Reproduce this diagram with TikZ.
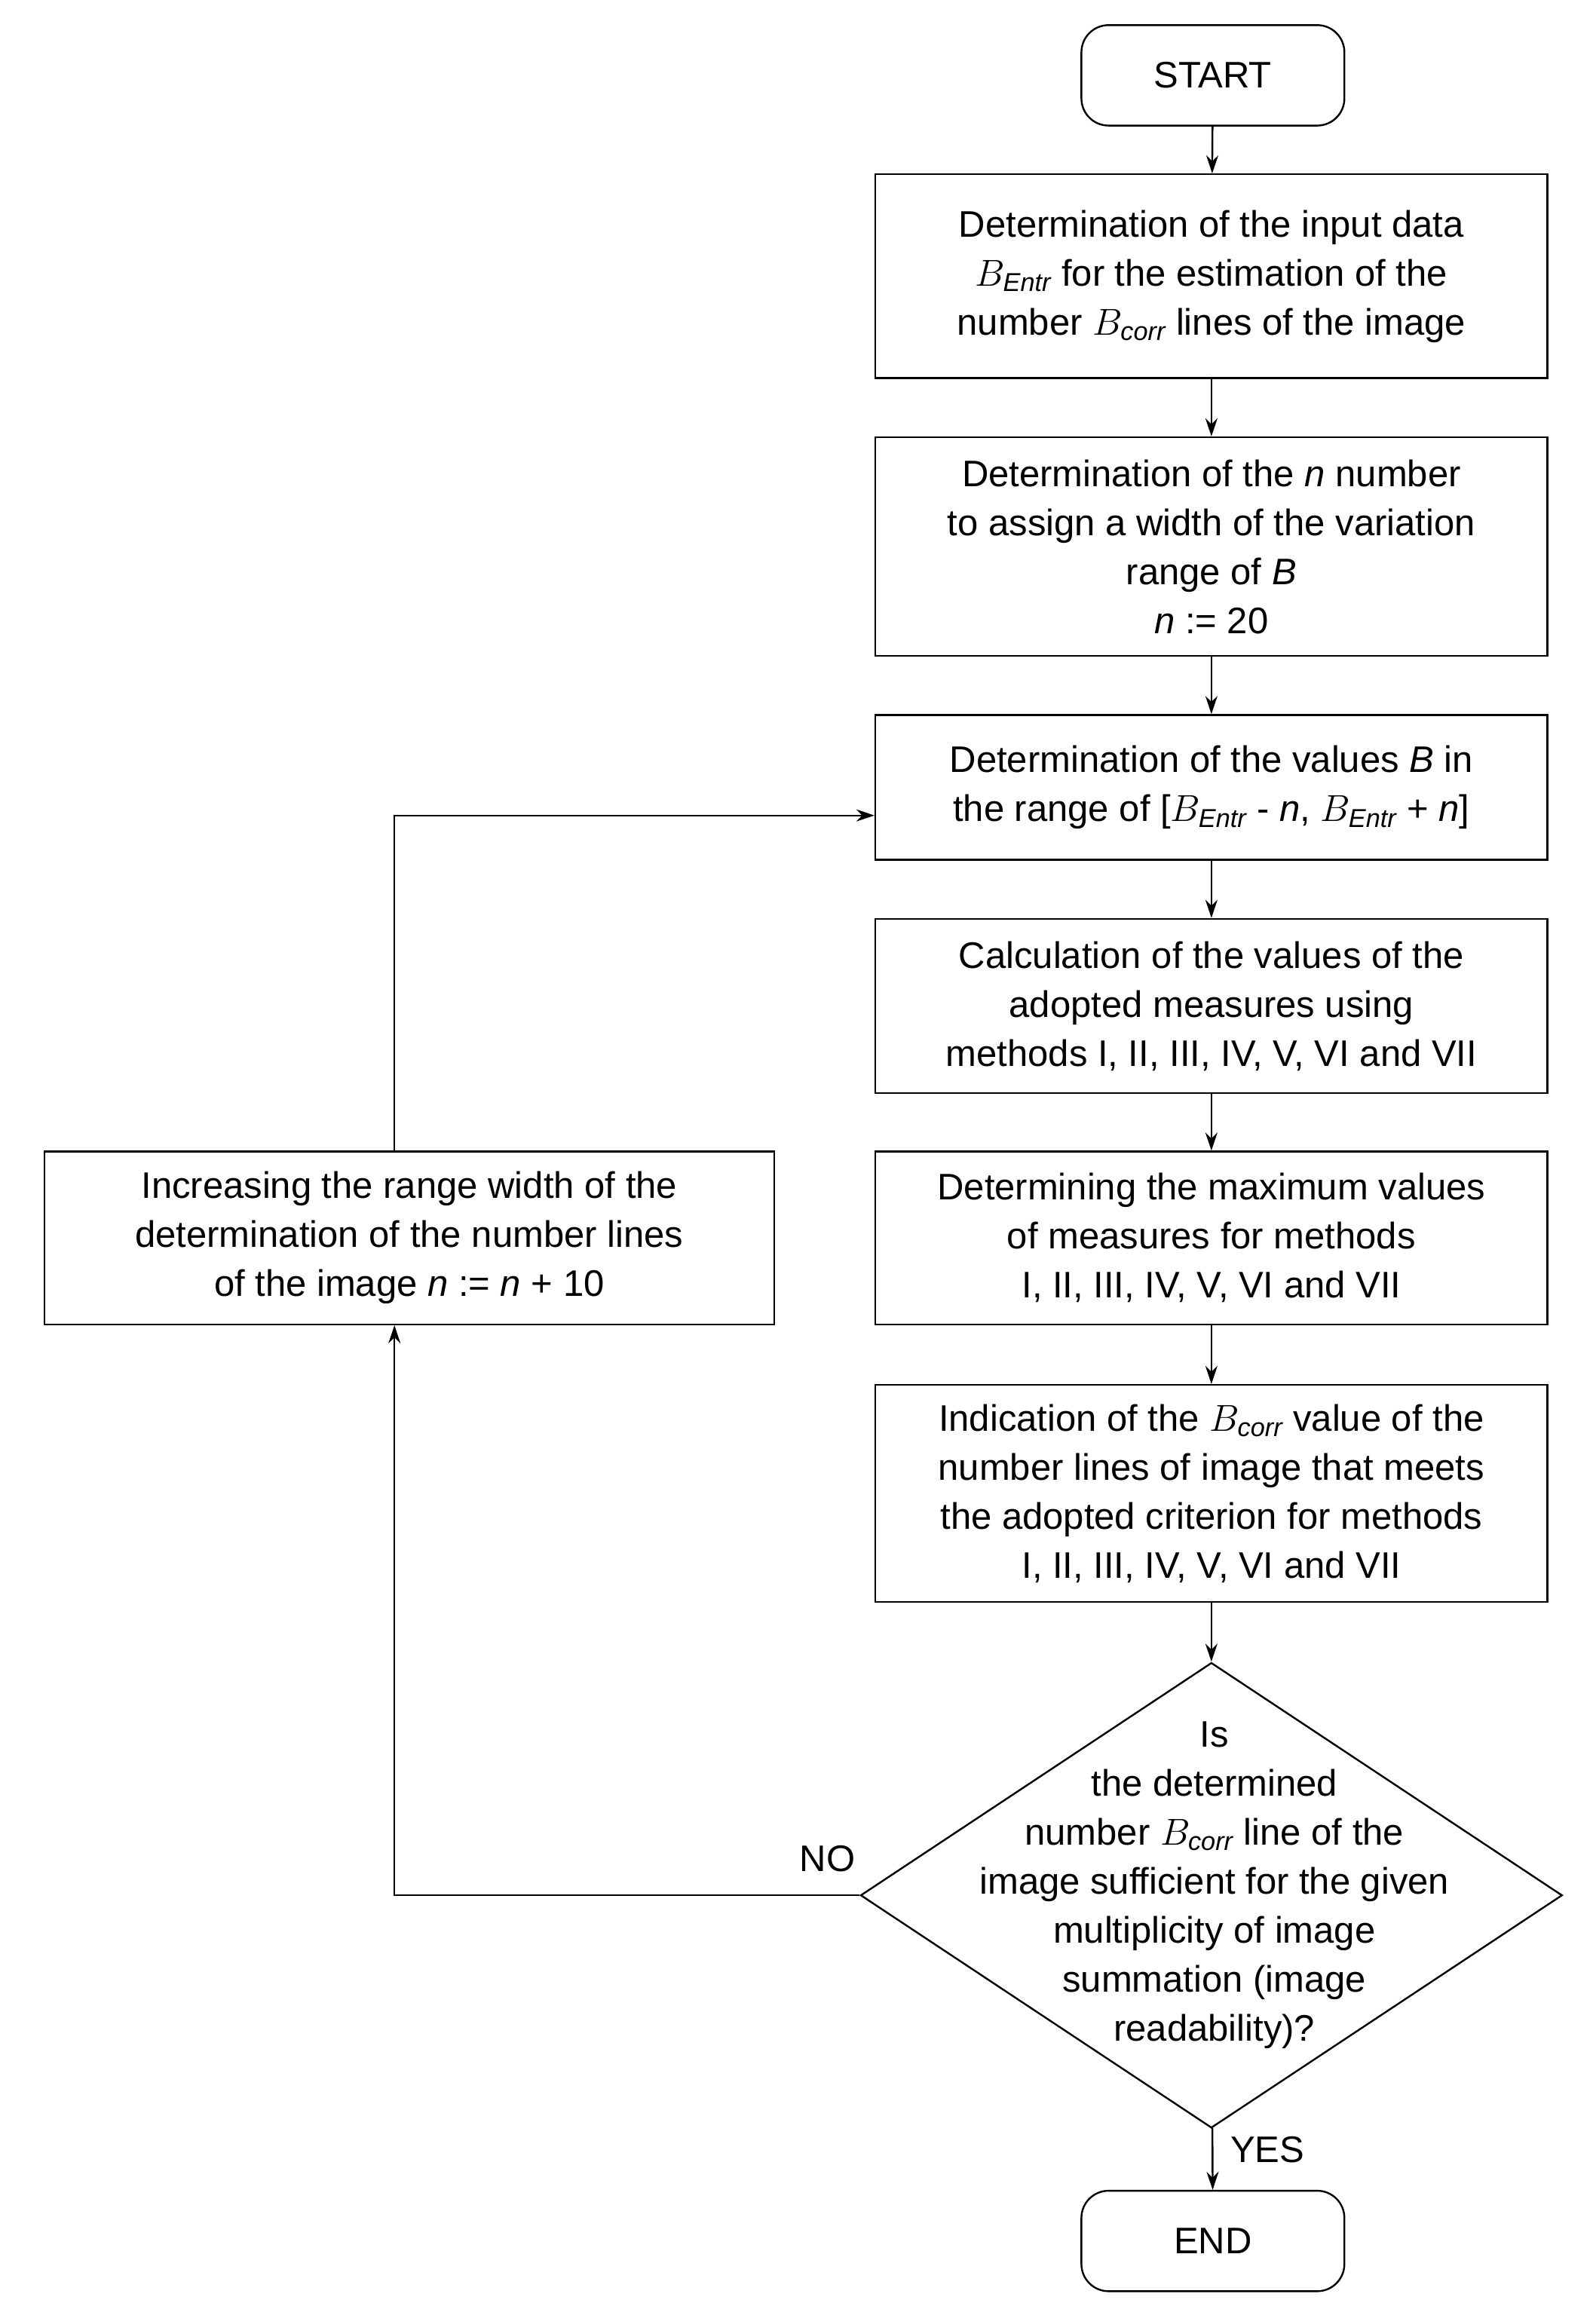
\documentclass[tikz,border=0pt]{standalone}
\usepackage{fontspec}
\setmainfont{Liberation Sans}
\usetikzlibrary{shapes.geometric,arrows.meta}
\begin{document}
\begin{tikzpicture}[x=0.98pt,y=-0.98pt,
  every node/.style={font=\fontsize{24.5}{32.5}\selectfont},
  box/.style={draw,line width=1.2pt,minimum width=455*0.98pt,align=center,inner sep=0pt},
  term/.style={draw,line width=1.2pt,rounded corners=18pt,minimum width=178*0.98pt,minimum height=68*0.98pt},
  arr/.style={line width=1.2pt,-{Stealth[length=12pt,width=8pt]}}]
\useasboundingbox (0,0) rectangle (1080,1559);
\node[term] (start) at (821,51) {START};
\node[box,minimum height=138*0.98pt] (b1) at (820,187) {\fontsize{24.5}{40}\selectfont Determination of the input data\\ $B_{\mathit{Entr}}$ for the estimation of the\\ number $B_{\mathit{corr}}$ lines of the image};
\node[box,minimum height=148*0.98pt] (b2) at (820,370) {Determination of the \emph{n} number\\ to assign a width of the variation\\ range of \emph{B}\\ \emph{n} := 20};
\node[box,minimum height=98*0.98pt] (b3) at (820,533) {\fontsize{24.5}{40}\selectfont Determination of the values \emph{B} in\\ the range of [$B_{\mathit{Entr}}$ - \emph{n}, $B_{\mathit{Entr}}$ + \emph{n}]};
\node[box,minimum height=118*0.98pt] (b4) at (820,681) {Calculation of the values of the\\ adopted measures using\\ methods I, II, III, IV, V, VI and VII};
\node[box,minimum height=117*0.98pt] (b5) at (820,838) {Determining the maximum values\\ of measures for methods\\ I, II, III, IV, V, VI and VII};
\node[box,minimum height=147*0.98pt] (b6) at (820,1011) {Indication of the $B_{\mathit{corr}}$ value of the\\ number lines of image that meets\\ the adopted criterion for methods\\ I, II, III, IV, V, VI and VII};
\node[draw,line width=1.2pt,diamond,minimum width=475*0.98pt,minimum height=315*0.98pt,inner sep=0pt] (d) at (820,1283) {};
\node[align=center] (dt) at (822,1276) {Is\\ the determined\\ number $B_{\mathit{corr}}$ line of the\\ image sufficient for the given\\ multiplicity of image\\ summation (image\\ readability)?};
\node[term] (end) at (821,1517) {END};
\node[box,minimum width=494*0.98pt,minimum height=117*0.98pt] (l) at (277,838) {Increasing the range width of the\\ determination of the number lines\\ of the image \emph{n} := \emph{n} + 10};
\coordinate (c1) at (267,1283);
\coordinate (c2) at (267,552);
\draw[arr] (start) -- (b1);
\draw[arr] (b1) -- (b2);
\draw[arr] (b2) -- (b3);
\draw[arr] (b3) -- (b4);
\draw[arr] (b4) -- (b5);
\draw[arr] (b5) -- (b6);
\draw[arr] (b6) -- (d);
\draw[arr] (d) -- node[right,xshift=8pt,yshift=6pt] (yes) {YES} (end);
\draw[arr] (d.west) -- (c1) -- (l.south -| c1);
\draw[arr] (l.north -| c2) -- (c2) -- (b3.west |- c2);
\node (no) at (560,1258) {NO};
\end{tikzpicture}
\end{document}
